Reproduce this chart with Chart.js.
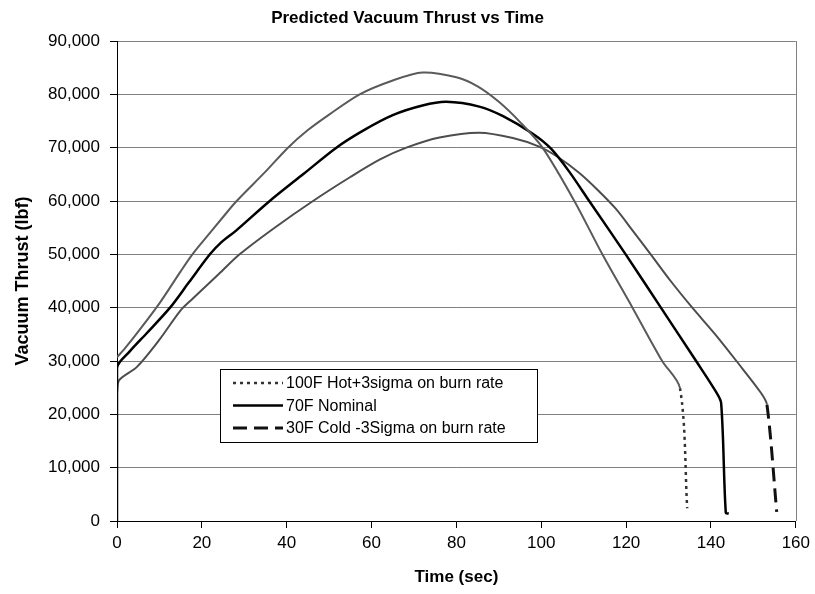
<!DOCTYPE html>
<html>
<head>
<meta charset="utf-8">
<title>Predicted Vacuum Thrust vs Time</title>
<script src="https://cdn.jsdelivr.net/npm/chart.js@4.4.1/dist/chart.umd.min.js"></script>
<style>
  html, body { margin: 0; padding: 0; background: #fff; }
  canvas { display: block; }
</style>
</head>
<body>
<canvas id="thrustChart" width="815" height="594"></canvas>
<script>
// series labels
const seriesLabels = ['100F Hot+3sigma on burn rate', '70F Nominal', '30F Cold -3Sigma on burn rate'];

// 100F hot: time (sec) and vacuum thrust (lbf)
const hotTime   = [0, 2, 5, 10, 15, 17.6, 20, 25, 28.2, 35, 40.3, 45, 50, 57.2, 65, 72, 80, 85, 90, 95, 100.3, 107.8, 114.4, 121.5, 128.5, 132.7, 134.4];
const hotThrust = [30700, 32500, 35500, 40800, 46800, 49800, 52200, 57000, 60000, 65500, 70000, 73300, 76200, 80000, 82600, 84100, 83200, 81500, 78600, 74800, 70000, 60000, 50000, 40000, 30000, 24900, 2400];

// 70F nominal
const nomTime   = [0, 0, 3, 7, 12.5, 17, 21.9, 24.5, 28, 36, 44, 51.7, 58, 65, 72, 77.6, 85.4, 91, 98, 102.3, 106.5, 111.3, 119.9, 128.2, 136.5, 141.2, 142.4, 143.5, 144.2];
const nomThrust = [0, 28700, 31800, 35200, 40000, 44800, 50000, 52200, 54400, 60000, 65100, 70000, 73200, 76100, 77900, 78600, 77700, 75900, 72600, 69800, 65600, 60000, 50000, 40000, 30000, 24200, 22100, 1500, 1400];

// 30F cold
const coldTime   = [0, 0.5, 4.7, 10, 15, 18, 24, 28.9, 37, 46.2, 55, 62, 68.2, 76, 85.4, 93.3, 99.5, 104, 108.9, 113, 117.5, 121.5, 125.8, 130.5, 135.6, 141, 146, 151.8, 153.2, 155.5];
const coldThrust = [24000, 26400, 28900, 34000, 39500, 41800, 46300, 50000, 54900, 60000, 64500, 67800, 70000, 71900, 72800, 71800, 70200, 68200, 65300, 62300, 58600, 54500, 50000, 45000, 40000, 35000, 30000, 24000, 21800, 1700];

// axis ticks
const xTicks = [0, 20, 40, 60, 80, 100, 120, 140, 160];
const yTicks = [0, 10000, 20000, 30000, 40000, 50000, 60000, 70000, 80000, 90000];

const FONT = "'Liberation Sans', Arial, Helvetica, sans-serif";
Chart.defaults.font.family = FONT;
Chart.defaults.color = '#000';

function toPoints(xs, ys) {
    return xs.map((x, i) => ({ x: x, y: ys[i] }));
}

// only the final burn-out drop keeps the dash pattern, the rest is solid
const isTail = ctx => ctx.p1.parsed.y < 15000 && ctx.p0.parsed.y > ctx.p1.parsed.y;

// legend box inside the plot area, like the original
const boxLegend = {
    id: 'boxLegend',
    afterDatasetsDraw(chart) {
        const { ctx, chartArea } = chart;
        const left = chartArea.left + 103;
        const top = chartArea.top + 328;
        const w = 317, h = 73;
        ctx.save();
        ctx.fillStyle = '#fff';
        ctx.fillRect(left, top, w, h);
        ctx.strokeStyle = '#000';
        ctx.lineWidth = 1;
        ctx.strokeRect(left + 0.5, top + 0.5, w, h);
        ctx.font = '16px ' + FONT;
        ctx.textBaseline = 'middle';
        ctx.fillStyle = '#000';
        chart.data.datasets.forEach((ds, i) => {
            const y = top + 14 + i * 22.5;
            ctx.beginPath();
            ctx.setLineDash(ds.borderDash || []);
            ctx.strokeStyle = ds.borderColor;
            ctx.lineWidth = ds.borderWidth;
            ctx.moveTo(left + 13, y);
            ctx.lineTo(left + 63, y);
            ctx.stroke();
            ctx.setLineDash([]);
            ctx.fillText(ds.label, left + 66, y + 1);
        });
        ctx.restore();
    }
};

// right edge of the plot area
const plotEdge = {
    id: 'plotEdge',
    beforeDatasetsDraw(chart) {
        const { ctx, chartArea } = chart;
        ctx.save();
        ctx.strokeStyle = '#808080';
        ctx.lineWidth = 1;
        ctx.beginPath();
        ctx.moveTo(Math.round(chartArea.right) + 0.5, chartArea.top);
        ctx.lineTo(Math.round(chartArea.right) + 0.5, chartArea.bottom);
        ctx.stroke();
        ctx.restore();
    }
};

const data = {
    datasets: [{
        label: seriesLabels[0],
        data: toPoints(hotTime, hotThrust),
        borderColor: '#333',
        borderWidth: 2.5,
        borderDash: [3, 4],
        segment: {
            borderColor: ctx => isTail(ctx) ? undefined : '#5a5a5a',
            borderDash: ctx => isTail(ctx) ? undefined : [],
            borderWidth: ctx => isTail(ctx) ? undefined : 2
        }
    }, {
        label: seriesLabels[1],
        data: toPoints(nomTime, nomThrust),
        borderColor: '#000',
        borderWidth: 2.5
    }, {
        label: seriesLabels[2],
        data: toPoints(coldTime, coldThrust),
        borderColor: '#111',
        borderWidth: 3,
        borderDash: [14, 7],
        segment: {
            borderColor: ctx => isTail(ctx) ? undefined : '#4d4d4d',
            borderDash: ctx => isTail(ctx) ? undefined : [],
            borderWidth: ctx => isTail(ctx) ? undefined : 2
        }
    }]
};

const config = {
    type: 'line',
    data: data,
    options: {
        responsive: false,
        animation: false,
        devicePixelRatio: 1,
        elements: {
            point: { radius: 0 },
            line: { tension: 0.3, fill: false }
        },
        layout: { padding: { left: 4, right: 4, top: 0, bottom: 0 } },
        plugins: {
            legend: { display: false },
            tooltip: { enabled: false },
            title: {
                display: true,
                text: 'Predicted Vacuum Thrust vs Time',
                font: { size: 17, weight: 'bold' },
                color: '#000',
                padding: { top: 8, bottom: 12.6 }
            }
        },
        scales: {
            x: {
                type: 'linear',
                min: 0,
                max: 160,
                afterBuildTicks: s => { s.ticks = xTicks.map(v => ({ value: v })); },
                ticks: { color: '#000', font: { size: 17 }, padding: 5, maxRotation: 0 },
                grid: { drawOnChartArea: false, tickLength: 7, tickColor: '#000' },
                border: { color: '#000', width: 1 },
                title: {
                    display: true,
                    text: 'Time (sec)',
                    color: '#000',
                    font: { size: 17, weight: 'bold' },
                    padding: { top: 4, bottom: 6 }
                },
                afterFit: s => { s.height = 73; }
            },
            y: {
                min: 0,
                max: 90000,
                afterBuildTicks: s => { s.ticks = yTicks.map(v => ({ value: v })); },
                ticks: {
                    color: '#000',
                    font: { size: 17 },
                    padding: 10,
                    callback: v => v.toLocaleString('en-US')
                },
                grid: { color: '#808080', tickLength: 7, tickColor: '#000' },
                border: { color: '#000', width: 1 },
                title: {
                    display: true,
                    text: 'Vacuum Thrust (lbf)',
                    color: '#000',
                    font: { size: 18, weight: 'bold' },
                    padding: { top: 8, bottom: 4 }
                },
                afterFit: s => { s.width = 113; }
            }
        }
    },
    plugins: [plotEdge, boxLegend]
};

new Chart(document.getElementById('thrustChart').getContext('2d'), config);
</script>
</body>
</html>
